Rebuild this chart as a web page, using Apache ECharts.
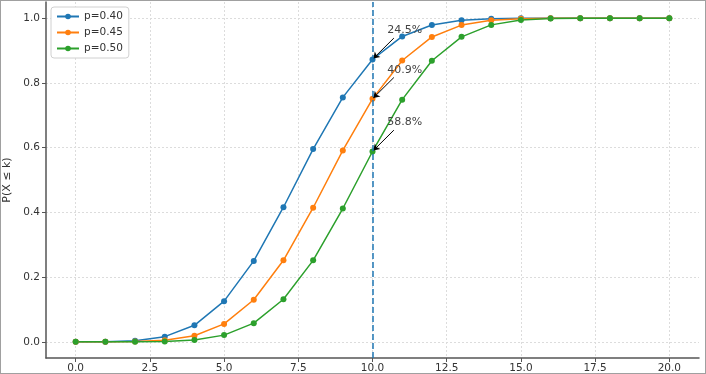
<!DOCTYPE html>
<html><head><meta charset="utf-8">
<script src="https://cdn.jsdelivr.net/npm/echarts@6/dist/echarts.min.js"></script>
<style>
html,body{margin:0;padding:0;background:#fff;}
#c{width:706px;height:374px;box-sizing:border-box;border:1px solid #a0a0a0;}
</style></head>
<body><div id="c"></div>
<script>
const ks = [0,1,2,3,4,5,6,7,8,9,10,11,12,13,14,15,16,17,18,19,20];
const p40 = [0.0000,0.0005,0.0036,0.0160,0.0510,0.1256,0.2500,0.4159,0.5956,0.7553,0.8725,0.9435,0.9790,0.9935,0.9984,0.9997,1.0000,1.0000,1.0000,1.0000,1.0000];
const p45 = [0.0000,0.0001,0.0009,0.0049,0.0189,0.0553,0.1299,0.2520,0.4143,0.5914,0.7507,0.8692,0.9420,0.9786,0.9936,0.9985,0.9997,1.0000,1.0000,1.0000,1.0000];
const p50 = [0.0000,0.0000,0.0002,0.0013,0.0059,0.0207,0.0577,0.1316,0.2517,0.4119,0.5881,0.7483,0.8684,0.9423,0.9793,0.9941,0.9987,0.9998,1.0000,1.0000,1.0000];
const seriesNames = ['p=0.40','p=0.45','p=0.50'];
const colors = ['#1f77b4','#ff7f0e','#2ca02c'];
const xTicks = [0,2.5,5,7.5,10,12.5,15,17.5,20];
const yTicks = [0,0.2,0.4,0.6,0.8,1.0];
const markK = 10;
const annoLabels = ['24.5%','40.9%','58.8%'];
const allSeries = [p40,p45,p50];

const chart = echarts.init(document.getElementById('c'), null, {renderer:'canvas'});
const font = 'DejaVu Sans';
const series = allSeries.map((vals,i)=>{
  const yk = vals[ks.indexOf(markK)];
  return {
    name: seriesNames[i], type:'line',
    data: ks.map((k,j)=>[k, vals[j]]),
    symbol:'circle', symbolSize:6, showSymbol:true,
    lineStyle:{width:1.5, color:colors[i]},
    itemStyle:{color:colors[i]},
    z: 3,
    markPoint:{
      symbol:'circle', symbolSize:0, silent:true,
      data:[{coord:[markK+0.5, yk+0.09], value:annoLabels[i]}],
      label:{show:true, position:'right', distance:0, color:'#444', fontFamily:font, fontSize:11, formatter:annoLabels[i]}
    },
    markLine:{
      silent:true, animation:false, z:5,
      symbol:['none','arrow'], symbolSize:6,
      label:{show:false},
      lineStyle:{color:'#000', width:1, type:'solid'},
      data:[[{coord:[markK+0.72, yk+0.066]},{coord:[markK+0.03, yk+0.003]}]]
    }
  };
});
series.push({
  type:'line', data:[], silent:true,
  markLine:{
    silent:true, symbol:['none','none'], label:{show:false},
    lineStyle:{color:'#1f77b4', width:1.5, type:[6,3]},
    data:[{xAxis: markK}]
  }
});

chart.setOption({
  animation:false,
  textStyle:{fontFamily:font},
  grid:{left:45, right:6, top:1, bottom:15, containLabel:false, outerBoundsMode:'none'},
  legend:{
    data: seriesNames,
    orient:'vertical', left:50, top:6,
    itemWidth:22, itemHeight:7, itemGap:5,
    textStyle:{fontSize:10.5, color:'#333', fontFamily:font},
    borderColor:'#d0d0d0', borderWidth:1, borderRadius:3, padding:[4,6,4,5],
    backgroundColor:'#fff'
  },
  xAxis:{
    type:'value', min:-1, max:21,
    axisLine:{show:true, onZero:false, lineStyle:{color:'#555', width:1.5}},
    axisTick:{show:true, length:4, customValues:xTicks, lineStyle:{color:'#555'}},
    axisLabel:{customValues:xTicks, color:'#333', fontSize:10.5, fontFamily:font, margin:5,
      formatter:v=>v.toFixed(1)},
    splitLine:{show:true, lineStyle:{color:'#dcdcdc', type:[2,2], width:1}}
  },
  yAxis:{
    type:'value', min:-0.05, max:1.05,
    name:'P(X ≤ k)', nameLocation:'middle', nameGap:32,
    nameTextStyle:{fontSize:11, color:'#333', fontFamily:font},
    axisLine:{show:true, onZero:false, lineStyle:{color:'#555', width:1.5}},
    axisTick:{show:true, length:4, customValues:yTicks, lineStyle:{color:'#555'}},
    axisLabel:{customValues:yTicks, color:'#333', fontSize:10.5, fontFamily:font, margin:6,
      formatter:v=>v.toFixed(1)},
    splitLine:{show:true, lineStyle:{color:'#dcdcdc', type:[2,2], width:1}}
  },
  series: series
});
</script></body></html>
